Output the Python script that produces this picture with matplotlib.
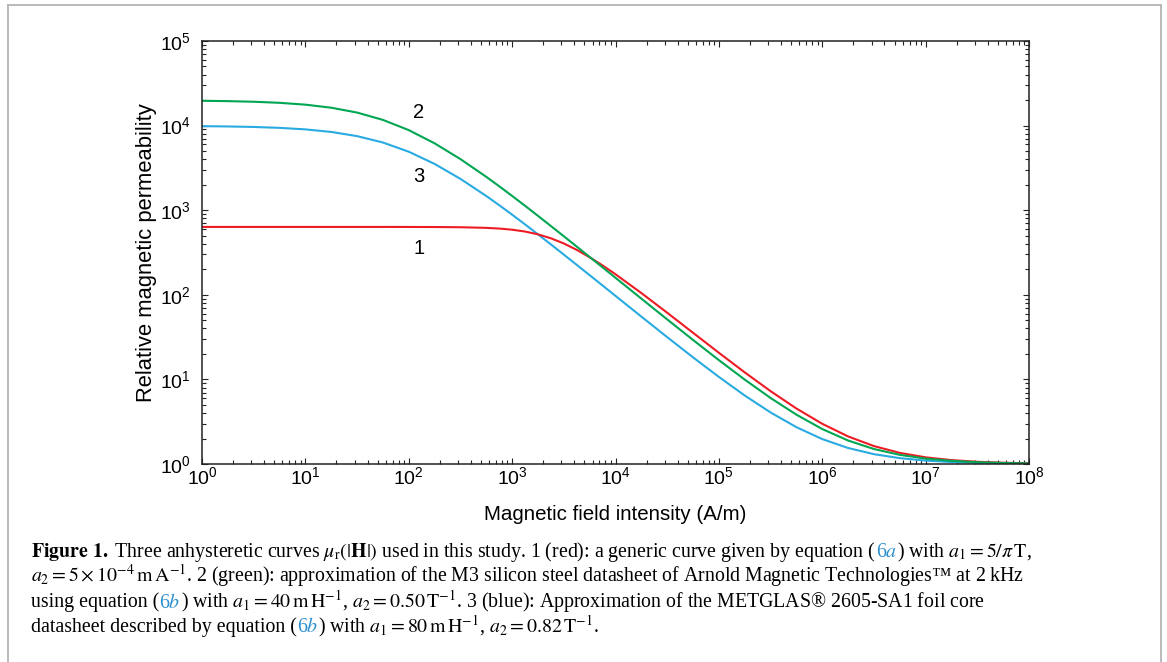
import matplotlib
matplotlib.use("Agg")
import matplotlib.pyplot as plt
from matplotlib.lines import Line2D
from matplotlib.ticker import LogLocator, NullFormatter

plt.rcParams.update({
    "font.family": "Liberation Sans",
    "mathtext.fontset": "custom",
    "mathtext.rm": "Liberation Sans",
    "mathtext.it": "Liberation Sans:italic",
    "mathtext.bf": "Liberation Sans:bold",
    "axes.linewidth": 1.1,
    "axes.edgecolor": "#222222",
})

# magnetic field intensity (A/m) and relative permeability
h_field = [1, 1.778, 3.162, 5.623, 10, 17.78, 31.62, 56.23, 100, 177.8, 316.2, 562.3,
           749.9, 1000, 1334, 1778, 2371, 3162, 4217, 5623, 7499,
           1e4, 1.778e4, 3.162e4, 5.623e4, 1e5, 1.778e5, 3.162e5, 5.623e5, 1e6,
           1.778e6, 3.162e6, 5.623e6, 1e7, 1.778e7, 3.162e7, 5.623e7, 1e8]
mu_red = [634.3, 634.3, 634.3, 634.3, 634.3, 634.2, 634.2, 634.1, 633.7, 632.6, 629.0, 618.3,
          606.9, 588.2, 559.5, 518.6, 465.7, 404.3, 339.8, 277.8, 222.3,
          174.9, 104.9, 61.38, 35.58, 20.64, 12.11, 7.266, 4.530, 2.987,
          2.118, 1.629, 1.354, 1.199, 1.112, 1.063, 1.035, 1.020]
mu_green = [19651, 19463, 19139, 18589, 17685, 16278, 14259, 11683, 8843, 6174, 4018, 2479,
            1919, 1474, 1127, 857.5, 650.2, 491.9, 371.4, 280.1, 211.0,
            158.9, 90.10, 51.20, 29.26, 16.90, 9.946, 6.032, 3.830, 2.591,
            1.895, 1.503, 1.283, 1.159, 1.090, 1.050, 1.028, 1.016]
mu_blue = [9847, 9770, 9636, 9406, 9023, 8415, 7513, 6311, 4913, 3525, 2346, 1472,
           1146, 885.2, 679.1, 518.3, 394.1, 298.7, 225.9, 170.6, 128.8,
           97.11, 55.27, 31.59, 18.23, 10.70, 6.454, 4.068, 2.726, 1.970,
           1.546, 1.307, 1.173, 1.097, 1.055, 1.031, 1.017, 1.010]

RED = "#ed1c24"
GREEN = "#00a651"
BLUE = "#29abe2"
LINK = "#2b8fcf"

caption_lines = [
    [(r"$\mathbf{Figure\ 1.}$ Three anhysteretic curves $\mu_\mathrm{r}(|\mathbf{H}|)$ used in this study. "
      r"1 (red): a generic curve given by equation (", "black"),
     (r"6$a$", LINK),
     (r") with $a_1 = 5/\pi\,\mathrm{T}$,", "black")],
    [(r"$a_2 = 5\times10^{-4}\,\mathrm{m\,A}^{-1}$. 2 (green): approximation of the M3 silicon steel "
      "datasheet of Arnold Magnetic Technologies\u2122 at 2\u2009kHz", "black")],
    [("using equation (", "black"),
     (r"6$b$", LINK),
     (r") with $a_1 = 40\,\mathrm{m\,H}^{-1}$, $a_2 = 0.50\,\mathrm{T}^{-1}$. "
      "3 (blue): Approximation of the METGLAS\u00ae 2605-SA1 foil core", "black")],
    [("datasheet described by equation (", "black"),
     (r"6$b$", LINK),
     (r") with $a_1 = 80\,\mathrm{m\,H}^{-1}$, $a_2 = 0.82\,\mathrm{T}^{-1}$.", "black")],
]

W, H = 1167, 662
fig = plt.figure(figsize=(W / 100, H / 100), dpi=100)
ax = fig.add_axes([202 / W, 1 - 464 / H, (1029 - 202) / W, (464 - 41) / H])

ax.plot(h_field, mu_blue, color=BLUE, lw=1.5)
ax.plot(h_field, mu_red, color=RED, lw=1.5)
ax.plot(h_field, mu_green, color=GREEN, lw=1.5)

ax.set_xscale("log")
ax.set_yscale("log")
ax.set_xlim(1, 1e8)
ax.set_ylim(1, 1e5)
ax.xaxis.set_major_locator(LogLocator(base=10, numticks=20))
ax.xaxis.set_minor_locator(LogLocator(base=10, subs=range(2, 10), numticks=200))
ax.yaxis.set_minor_locator(LogLocator(base=10, subs=range(2, 10), numticks=200))
ax.xaxis.set_minor_formatter(NullFormatter())
ax.yaxis.set_minor_formatter(NullFormatter())
ax.tick_params(which="both", direction="in", top=True, right=True, width=0.8, color="#222222")
ax.tick_params(which="major", length=4.5, labelsize=14)
ax.tick_params(which="minor", length=2.6)
ax.tick_params(axis="x", which="major", pad=1.5)
ax.tick_params(axis="y", which="major", pad=8)

ax.set_xlabel("Magnetic field intensity (A/m)", fontsize=14.8, labelpad=12)
ax.set_ylabel("Relative magnetic permeability", fontsize=15.8, labelpad=2)

ax.text(125, 14200, "2", fontsize=14.5, ha="center", va="center")
ax.text(125, 2490, "3", fontsize=14.5, ha="center", va="center")
ax.text(125, 357, "1", fontsize=14.5, ha="center", va="center")

# frame around figure + caption (open at the bottom)
for xs, ys in [((7.5, 7.5), (662, 4.5)), ((7.5, 1160.5), (4.5, 4.5)), ((1160.5, 1160.5), (4.5, 662))]:
    fig.add_artist(Line2D([x / W for x in xs], [1 - y / H for y in ys],
                          color="#b4b4b4", lw=1.3, transform=fig.transFigure))

renderer = fig.canvas.get_renderer()
baselines = [557, 582, 607.5, 632]
for parts, base in zip(caption_lines, baselines):
    x = 31.0
    for s, col in parts:
        t = fig.text(x / W, 1 - base / H, s, color=col, fontsize=14.3, va="baseline",
                     family="Liberation Serif", math_fontfamily="stix")
        x = t.get_window_extent(renderer).x1

fig.savefig("out.png", dpi=100)
